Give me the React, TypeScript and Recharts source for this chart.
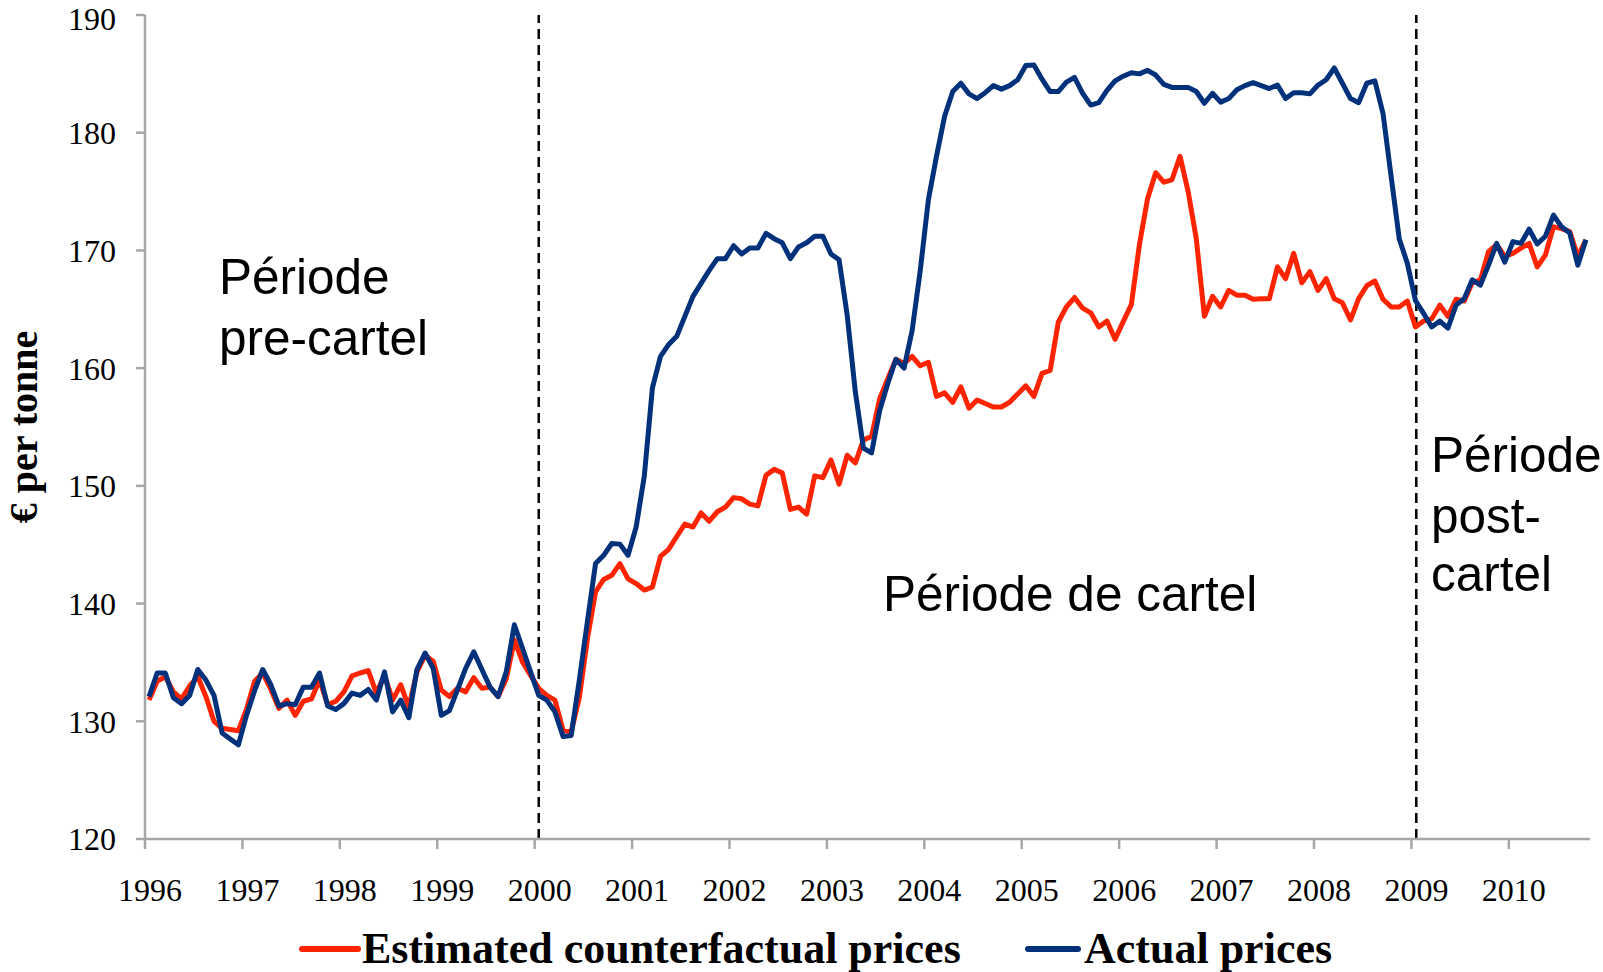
import React from 'react';
import { LineChart, Line, XAxis, YAxis, ReferenceLine } from 'recharts';

document.body.style.margin = '0';

// monthly series, Jan 1996 .. Oct 2010 (one value per month)
const actualPrices = [
  132.1, 134.1, 134.1, 132.0, 131.5, 132.2, 134.4, 133.5, 132.2, 129.0, 128.5, 128.0,
  130.5, 132.6, 134.4, 133.1, 131.3, 131.5, 131.4, 132.9, 132.9, 134.1, 131.3, 131.0,
  131.5, 132.4, 132.2, 132.7, 131.8, 134.2, 130.8, 131.8, 130.3, 134.4, 135.8, 134.5,
  130.5, 130.9, 132.7, 134.5, 135.9, 134.4, 132.9, 132.1, 134.2, 138.2, 136.2, 134.2,
  132.2, 131.8, 130.8, 128.7, 128.8, 133.5, 138.5, 143.4, 144.1, 145.1, 145.05, 144.1,
  146.5, 150.8, 158.3, 161.0, 162.0, 162.7, 164.4, 166.1, 167.2, 168.3, 169.3, 169.3,
  170.4, 169.7, 170.2, 170.2, 171.45, 171.0, 170.65, 169.3, 170.3, 170.65, 171.2, 171.2,
  169.7, 169.2, 164.5, 158.0, 153.2, 152.8, 156.4, 158.7, 160.75, 160.0, 163.2, 168.3,
  174.3, 178.0, 181.4, 183.5, 184.2, 183.3, 182.9, 183.4, 184.0, 183.7, 184.0, 184.5,
  185.7, 185.75, 184.55, 183.5, 183.5, 184.3, 184.7, 183.35, 182.35, 182.55, 183.6, 184.4,
  184.8, 185.1, 185.0, 185.3, 184.9, 184.1, 183.85, 183.85, 183.85, 183.5, 182.5, 183.35,
  182.6, 182.9, 183.65, 184.0, 184.25, 184.0, 183.75, 184.05, 182.9, 183.4, 183.4, 183.3,
  184.05, 184.5, 185.5, 184.2, 182.9, 182.55, 184.2, 184.4, 181.65, 176.3, 171.0, 168.9,
  165.75, 164.65, 163.5, 164.0, 163.4, 165.35, 165.9, 167.5, 167.05, 168.75, 170.6, 169.0,
  170.75, 170.6, 171.8, 170.55, 171.2, 173.0, 172.0, 171.5, 168.75, 170.9,
];

const counterfactualPrices = [
  131.8, 133.4, 133.8, 132.5, 131.9, 133.0, 133.8, 132.1, 130.0, 129.4, 129.3, 129.2,
  131.0, 133.4, 134.1, 132.7, 131.1, 131.8, 130.5, 131.7, 131.9, 133.5, 131.4, 131.7,
  132.5, 133.85, 134.1, 134.3, 132.4, 133.9, 131.8, 133.1, 131.2, 134.2, 135.6, 135.1,
  132.65, 132.1, 132.8, 132.5, 133.7, 132.8, 132.9, 132.1, 133.6, 136.9, 135.05, 133.9,
  132.8, 132.2, 131.8, 129.25, 129.1, 132.0, 137.0, 141.0, 142.05, 142.4, 143.4, 142.1,
  141.7, 141.15, 141.4, 144.0, 144.6, 145.7, 146.75, 146.5, 147.7, 147.0, 147.8, 148.2,
  149.0, 148.9, 148.45, 148.3, 150.9, 151.4, 151.1, 148.0, 148.2, 147.6, 150.85, 150.7,
  152.2, 150.15, 152.6, 151.95, 153.9, 154.2, 157.4, 159.1, 160.75, 160.4, 161.0, 160.2,
  160.5, 157.6, 157.9, 157.1, 158.4, 156.6, 157.3, 157.0, 156.7, 156.7, 157.1, 157.8,
  158.5, 157.6, 159.55, 159.8, 163.9, 165.2, 166.0, 165.1, 164.7, 163.5, 164.0, 162.45,
  163.95, 165.4, 170.5, 174.4, 176.6, 175.8, 176.0, 178.0, 175.0, 171.0, 164.4, 166.1,
  165.2, 166.6, 166.2, 166.2, 165.85, 165.9, 165.9, 168.6, 167.6, 169.75, 167.25, 168.2,
  166.6, 167.6, 165.9, 165.55, 164.1, 165.9, 167.0, 167.4, 165.85, 165.2, 165.2, 165.7,
  163.5, 164.0, 164.2, 165.35, 164.4, 165.85, 165.7, 167.25, 167.5, 169.9, 170.5, 169.5,
  169.75, 170.2, 170.6, 168.6, 169.6, 172.0, 171.85, 171.6, 169.5, 170.9,
];

const years = [1996, 1997, 1998, 1999, 2000, 2001, 2002, 2003, 2004, 2005, 2006, 2007, 2008, 2009, 2010];
const priceTicks = [120, 130, 140, 150, 160, 170, 180, 190];
// dashed separators (month index on the axis)
const cartelStart = 48.5;
const cartelEnd = 156.6;

const firstYear = years[0];
const monthCount = actualPrices.length;

// x = month position, each month drawn at the middle of its slot
const data = actualPrices.map((v, i) => ({
  m: i + 0.5,
  actual: v,
  estimated: counterfactualPrices[i],
}));

const RED = '#FF2400';
const NAVY = '#00317A';
const AXIS = '#A6A6A6';
const serif = '"Liberation Serif", "Times New Roman", serif';
const sans = '"Liberation Sans", Arial, Helvetica, sans-serif';

const YearTick = (props: any) => {
  const { x, y, payload } = props;
  return (
    <text x={x + 5} y={y + 52} textAnchor="middle" fontFamily={serif} fontSize={32} fill="#000">
      {firstYear + payload.value / 12}
    </text>
  );
};

export default function App() {
  return (
    <div style={{ position: 'relative', width: 1603, height: 972, background: '#fff' }}>
      <LineChart
        width={1603}
        height={972}
        data={data}
        margin={{ top: 15, right: 13, left: 20, bottom: 73 }}
      >
        <XAxis
          type="number"
          dataKey="m"
          domain={[0, monthCount]}
          ticks={years.map((_, k) => k * 12)}
          tick={<YearTick />}
          tickSize={10}
          tickMargin={0}
          height={60}
          axisLine={{ stroke: AXIS, strokeWidth: 2.5 }}
          tickLine={{ stroke: AXIS, strokeWidth: 2.5 }}
          allowDataOverflow
        />
        <YAxis
          type="number"
          domain={[120, 190]}
          ticks={priceTicks}
          width={125}
          tickSize={9}
          tickMargin={20}
          tick={{ fontFamily: serif, fontSize: 32, fill: '#000' }}
          axisLine={{ stroke: AXIS, strokeWidth: 2.5 }}
          tickLine={{ stroke: AXIS, strokeWidth: 2.5 }}
        />
        <ReferenceLine x={cartelStart} stroke="#000" strokeWidth={2.5} strokeDasharray="10 6" />
        <ReferenceLine x={cartelEnd} stroke="#000" strokeWidth={2.5} strokeDasharray="10 6" />
        <Line
          type="linear"
          dataKey="estimated"
          stroke={RED}
          strokeWidth={5}
          dot={false}
          strokeLinejoin="round"
          isAnimationActive={false}
        />
        <Line
          type="linear"
          dataKey="actual"
          stroke={NAVY}
          strokeWidth={5}
          dot={false}
          strokeLinejoin="round"
          isAnimationActive={false}
        />
      </LineChart>

      {/* text layer: axis title, period labels, legend */}
      <svg
        width={1603}
        height={972}
        style={{ position: 'absolute', left: 0, top: 0, pointerEvents: 'none' }}
      >
        <text
          transform="translate(37 427) rotate(-90)"
          textAnchor="middle"
          fontFamily={serif}
          fontWeight="bold"
          fontSize={40}
        >
          € per tonne
        </text>

        <g fontFamily={sans} fontSize={49.5} fill="#000">
          <text x={219} y={294}>Période</text>
          <text x={219} y={355}>pre-cartel</text>
          <text x={883} y={611}>Période de cartel</text>
          <text x={1431} y={472}>Période</text>
          <text x={1431} y={533}>post-</text>
          <text x={1431} y={591}>cartel</text>
        </g>

        <line x1={302} x2={358} y1={949} y2={949} stroke={RED} strokeWidth={6} strokeLinecap="round" />
        <text x={362} y={963} fontFamily={serif} fontWeight="bold" fontSize={44}>
          Estimated counterfactual prices
        </text>
        <line x1={1028} x2={1078} y1={949} y2={949} stroke={NAVY} strokeWidth={6} strokeLinecap="round" />
        <text x={1084} y={963} fontFamily={serif} fontWeight="bold" fontSize={44}>
          Actual prices
        </text>
      </svg>
    </div>
  );
}
